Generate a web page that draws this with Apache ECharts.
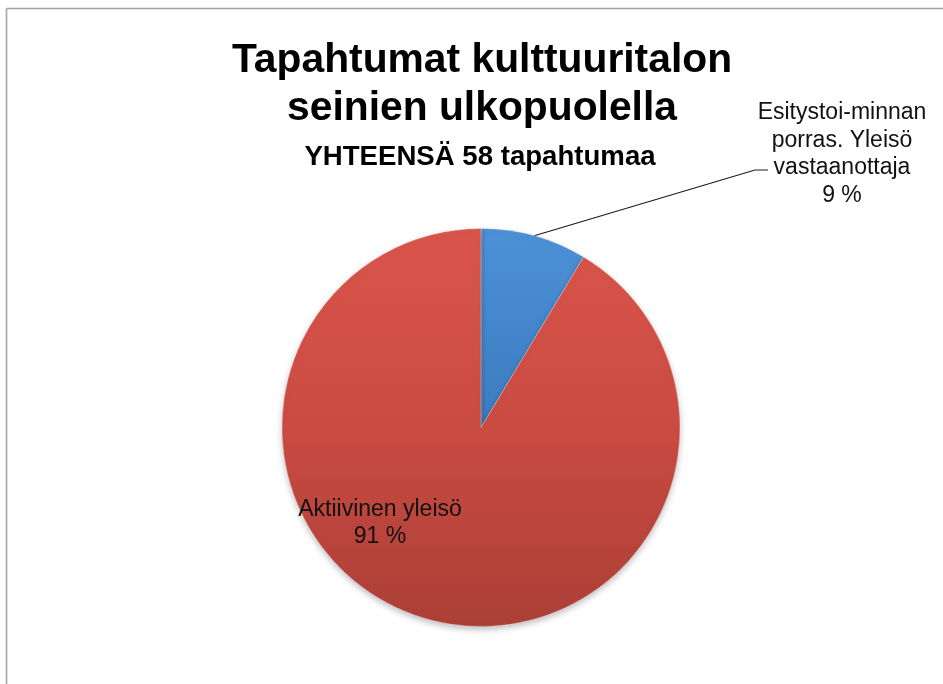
<!DOCTYPE html>
<html>
<head>
<meta charset="utf-8">
<script src="https://cdn.jsdelivr.net/npm/echarts@6/dist/echarts.min.js"></script>
<style>
  html, body { margin: 0; padding: 0; background: #ffffff; }
  #chart { width: 943px; height: 684px; }
</style>
</head>
<body>
<div id="chart"></div>
<script>
const titleLines = ['Tapahtumat kulttuuritalon', 'seinien ulkopuolella'];
const subtitleText = 'YHTEENSÄ 58 tapahtumaa';
const categories = ['Esitystoi-minnan\nporras. Yleisö\nvastaanottaja', 'Aktiivinen yleisö'];
const values = [5, 53];

const FONT = '"Liberation Sans", Arial, Helvetica, sans-serif';

const chart = echarts.init(document.getElementById('chart'), null, { renderer: 'canvas' });

const sliceColors = [
  new echarts.graphic.LinearGradient(0, 0, 0, 1, [
    { offset: 0, color: '#4c91d7' },
    { offset: 1, color: '#3c7bbf' }
  ]),
  new echarts.graphic.LinearGradient(0, 0, 0, 1, [
    { offset: 0, color: '#d9554b' },
    { offset: 0.5, color: '#ca4b42' },
    { offset: 1, color: '#ab3f36' }
  ])
];

const option = {
  backgroundColor: '#ffffff',
  animation: false,
  title: [
    {
      text: titleLines.join('\n'),
      left: 477,
      textAlign: 'center',
      top: 32,
      textStyle: {
        fontFamily: FONT,
        fontSize: 40.8,
        fontWeight: 'bold',
        color: '#000000',
        lineHeight: 48
      }
    },
    {
      text: subtitleText,
      left: 475,
      textAlign: 'center',
      top: 136,
      textStyle: {
        fontFamily: FONT,
        fontSize: 27.6,
        fontWeight: 'bold',
        color: '#000000',
        lineHeight: 32
      }
    }
  ],
  graphic: [
    { type: 'line', silent: true, shape: { x1: 6.5, y1: 8.5, x2: 943, y2: 8.5 }, style: { stroke: '#a3a3a3', lineWidth: 1.6 } },
    { type: 'line', silent: true, shape: { x1: 6.5, y1: 8.5, x2: 6.5, y2: 684 }, style: { stroke: '#a3a3a3', lineWidth: 1.6 } }
  ],
  series: [
    {
      type: 'pie',
      center: [481, 427.5],
      radius: [0, 199],
      startAngle: 90,
      clockwise: true,
      percentPrecision: 0,
      avoidLabelOverlap: false,
      itemStyle: {
        borderColor: 'rgba(255,255,255,0.35)',
        borderWidth: 0.8,
        shadowBlur: 6,
        shadowOffsetY: 3,
        shadowColor: 'rgba(0,0,0,0.25)'
      },
      label: {
        show: true,
        formatter: '{b}\n{d} %',
        fontFamily: FONT,
        fontSize: 23,
        lineHeight: 27.5,
        color: '#111111',
        align: 'center'
      },
      labelLine: {
        show: true,
        length: 20,
        length2: 14,
        smooth: false,
        lineStyle: { color: '#1a1a1a', width: 1.2 }
      },
      labelLayout: function (p) {
        if (p.dataIndex === 0) {
          const a = p.labelLinePoints ? p.labelLinePoints[0] : [534, 236];
          return {
            x: 842, y: 154, align: 'center', verticalAlign: 'middle',
            labelLinePoints: [a, [755, 170], [768, 170]]
          };
        }
        return { x: 380, y: 523, align: 'center', verticalAlign: 'middle' };
      },
      data: categories.map((name, i) => ({
        name: name,
        value: values[i],
        itemStyle: { color: sliceColors[i] },
        label: i === 1 ? { position: 'inside' } : { position: 'outside' },
        labelLine: { show: i === 0 }
      }))
    }
  ]
};

chart.setOption(option);
</script>
</body>
</html>
